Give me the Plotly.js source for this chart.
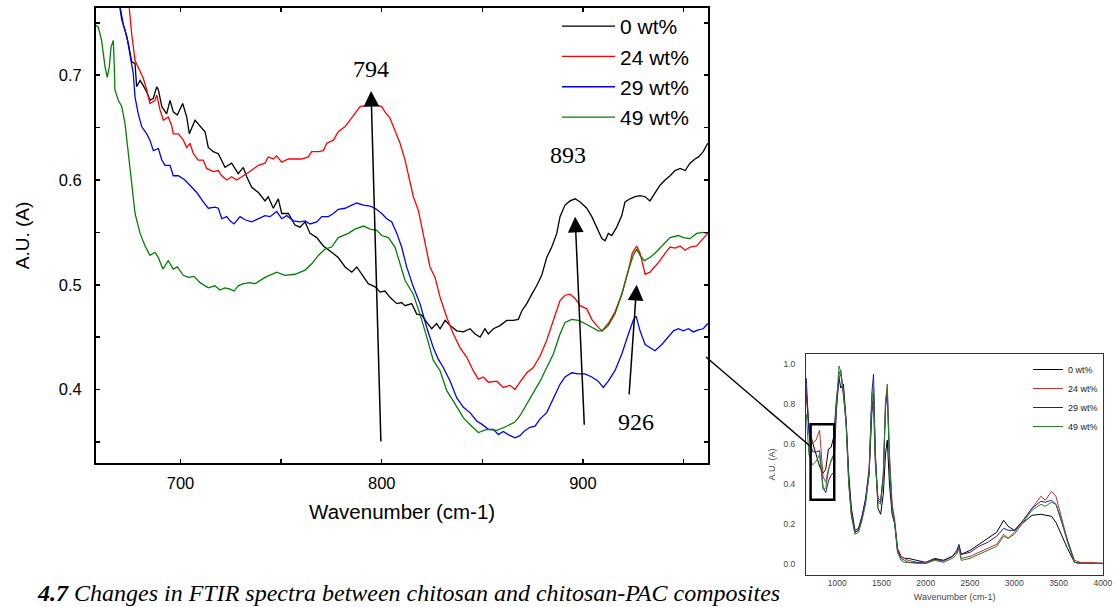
<!DOCTYPE html>
<html>
<head>
<meta charset="utf-8">
<script src="https://cdn.plot.ly/plotly-3.0.1.min.js"></script>
<style>html,body{margin:0;padding:0;background:#fff;}#chart{width:1117px;height:607px;}</style>
</head>
<body>
<div id="chart"></div>
<script>
// ---- main panel: 660-960 cm-1 region ----
const seriesNames = ['0 wt%', '24 wt%', '29 wt%', '49 wt%'];

const wn0 = [669.0,670.8,672.4,674.1,675.7,677.4,678.2,679.9,681.5,683.2,684.8,686.5,688.2,689.0,690.7,693.1,694.8,696.4,698.4,701.1,703.1,704.4,707.2,709.7,712.2,713.8,716.3,718.8,722.1,725.4,728.7,731.2,732.9,735.4,738.7,742.0,743.6,746.1,748.6,750.3,753.6,756.9,759.4,761.9,764.4,767.7,771.0,775.1,778.4,781.8,785.1,787.6,790.0,793.3,796.7,799.2,801.6,804.1,807.5,809.9,811.6,814.9,817.4,819.9,822.4,824.8,827.3,829.0,831.5,834.0,837.3,840.6,843.9,846.4,848.9,851.3,853.0,855.5,858.8,862.1,865.4,867.9,869.6,872.1,874.6,877.0,879.5,882.0,884.5,887.0,888.6,891.1,893.6,896.1,898.6,901.9,904.4,906.9,909.4,911.0,912.6,914.3,916.8,919.3,920.9,923.4,925.9,928.4,930.9,933.3,935.8,938.3,940.8,943.3,945.8,948.3,950.8,953.2,955.7,957.4,959.8,962.0];
const abs0 = [0.775,0.753,0.743,0.730,0.713,0.711,0.689,0.695,0.690,0.684,0.676,0.678,0.689,0.686,0.670,0.663,0.676,0.665,0.662,0.673,0.660,0.644,0.657,0.652,0.646,0.631,0.627,0.625,0.612,0.616,0.606,0.612,0.603,0.593,0.588,0.580,0.584,0.573,0.582,0.568,0.568,0.557,0.555,0.560,0.549,0.545,0.537,0.531,0.526,0.517,0.512,0.517,0.510,0.501,0.498,0.493,0.494,0.488,0.482,0.483,0.480,0.482,0.472,0.471,0.464,0.458,0.463,0.458,0.466,0.461,0.456,0.455,0.458,0.453,0.450,0.458,0.453,0.458,0.461,0.466,0.466,0.467,0.475,0.482,0.491,0.499,0.509,0.526,0.536,0.549,0.565,0.576,0.580,0.582,0.579,0.573,0.565,0.555,0.544,0.542,0.549,0.547,0.555,0.566,0.579,0.582,0.584,0.585,0.584,0.580,0.587,0.595,0.600,0.604,0.609,0.611,0.609,0.616,0.620,0.622,0.627,0.635];

const wn24 = [674.0,675.7,677.4,679.9,681.5,683.2,684.8,687.3,688.2,689.8,691.5,693.9,695.6,696.4,698.9,701.4,703.1,704.7,706.4,708.8,711.3,713.0,716.3,718.8,720.5,723.0,725.4,727.9,731.2,734.5,738.7,742.0,743.6,746.1,747.8,750.3,753.6,756.9,760.2,763.5,765.2,768.5,771.0,772.7,776.0,778.4,781.8,783.4,785.9,789.2,791.7,795.0,798.3,800.0,801.6,804.1,806.6,809.1,811.6,815.7,818.2,820.7,824.0,826.5,829.0,832.3,835.6,838.9,842.2,845.5,848.0,850.5,853.0,857.2,860.4,863.8,866.2,868.7,872.1,875.3,878.7,882.0,885.3,888.6,891.1,893.6,896.1,898.6,901.9,904.4,906.9,909.4,912.6,915.9,919.3,922.6,924.5,926.7,928.4,930.9,933.3,935.8,938.3,940.8,943.3,945.8,948.3,950.8,953.2,956.5,959.0,962.0];
const abs24 = [0.775,0.740,0.714,0.703,0.697,0.686,0.673,0.676,0.681,0.667,0.657,0.660,0.652,0.644,0.644,0.638,0.631,0.635,0.625,0.619,0.619,0.611,0.608,0.609,0.604,0.600,0.603,0.600,0.604,0.608,0.614,0.616,0.622,0.620,0.623,0.617,0.620,0.620,0.620,0.622,0.627,0.627,0.628,0.635,0.638,0.646,0.651,0.655,0.662,0.670,0.671,0.673,0.671,0.670,0.665,0.659,0.647,0.635,0.619,0.584,0.571,0.549,0.517,0.507,0.488,0.469,0.453,0.440,0.431,0.418,0.410,0.412,0.407,0.408,0.402,0.404,0.400,0.407,0.416,0.421,0.432,0.447,0.466,0.485,0.490,0.491,0.487,0.480,0.477,0.467,0.461,0.456,0.463,0.474,0.491,0.514,0.530,0.537,0.530,0.510,0.512,0.517,0.523,0.530,0.536,0.535,0.537,0.533,0.536,0.537,0.542,0.549];

const wn29 = [669.0,671.6,673.3,674.9,676.5,677.4,679.0,680.7,683.2,684.8,686.5,689.0,690.7,692.3,694.8,696.4,698.9,702.2,704.7,708.1,711.3,713.8,717.1,718.8,720.5,723.0,724.6,726.6,729.6,732.1,735.4,738.7,742.0,744.5,747.8,750.3,752.8,756.1,759.4,761.9,764.4,767.7,770.2,773.5,776.0,778.4,781.8,785.1,787.6,790.9,794.2,796.7,800.0,802.5,805.0,807.5,809.9,812.4,815.7,819.0,822.4,825.6,828.1,830.6,834.0,837.3,840.6,843.9,847.2,849.7,853.0,855.5,858.0,860.4,862.9,866.2,868.7,871.2,873.7,876.2,878.7,882.0,884.5,887.0,888.6,891.1,894.4,897.7,901.0,904.4,907.6,910.1,912.6,915.9,919.3,922.6,925.0,926.4,928.4,930.9,933.3,935.8,939.2,942.5,945.0,947.4,949.9,952.4,954.9,957.3,959.8,962.0];
const abs29 = [0.775,0.748,0.737,0.719,0.702,0.679,0.663,0.651,0.644,0.638,0.628,0.630,0.619,0.614,0.614,0.604,0.604,0.600,0.595,0.588,0.579,0.573,0.574,0.573,0.563,0.565,0.561,0.558,0.565,0.562,0.560,0.563,0.566,0.565,0.570,0.563,0.566,0.561,0.560,0.561,0.558,0.560,0.565,0.565,0.568,0.572,0.573,0.576,0.578,0.576,0.575,0.573,0.568,0.563,0.560,0.549,0.536,0.517,0.498,0.482,0.459,0.440,0.429,0.421,0.408,0.392,0.383,0.378,0.370,0.367,0.362,0.362,0.357,0.360,0.357,0.354,0.356,0.361,0.364,0.365,0.372,0.378,0.388,0.399,0.405,0.412,0.416,0.415,0.415,0.412,0.408,0.402,0.408,0.418,0.434,0.453,0.466,0.470,0.456,0.443,0.440,0.437,0.443,0.451,0.456,0.458,0.456,0.458,0.455,0.457,0.458,0.463];

const wn49 = [657.5,659.1,660.8,662.5,663.6,664.6,665.5,666.6,667.1,667.4,669.1,670.8,672.4,674.1,675.7,677.4,679.9,682.4,684.8,687.3,689.0,691.2,693.9,696.4,698.4,701.4,703.9,706.7,709.7,713.8,717.1,719.6,722.1,724.3,726.6,728.7,731.2,734.5,737.0,742.0,747.8,751.9,756.9,761.9,765.2,768.5,771.8,775.1,778.4,783.4,786.7,790.9,794.2,797.5,800.0,803.3,806.6,809.1,811.6,815.7,819.0,822.4,825.6,829.0,832.3,835.6,840.6,844.7,848.0,852.2,857.2,862.1,866.2,868.7,872.1,875.3,878.7,882.0,885.3,888.6,891.1,894.4,897.7,901.0,904.4,907.6,909.6,912.6,915.9,919.3,922.6,925.0,926.7,928.4,930.5,933.3,935.8,939.2,943.3,947.4,949.9,953.2,956.5,959.8,962.0];
const abs49 = [0.748,0.746,0.733,0.708,0.698,0.708,0.727,0.733,0.708,0.686,0.676,0.670,0.654,0.625,0.593,0.568,0.549,0.537,0.528,0.531,0.526,0.515,0.523,0.515,0.517,0.509,0.507,0.508,0.502,0.497,0.499,0.495,0.497,0.496,0.494,0.499,0.501,0.502,0.501,0.507,0.512,0.509,0.510,0.514,0.520,0.528,0.534,0.536,0.545,0.549,0.553,0.556,0.553,0.552,0.547,0.545,0.536,0.520,0.504,0.491,0.472,0.450,0.428,0.418,0.399,0.389,0.373,0.365,0.359,0.362,0.361,0.365,0.369,0.375,0.386,0.396,0.408,0.421,0.434,0.453,0.464,0.467,0.466,0.463,0.459,0.456,0.456,0.461,0.472,0.491,0.514,0.528,0.534,0.528,0.523,0.526,0.530,0.537,0.545,0.547,0.545,0.544,0.549,0.550,0.549];

// peak labels (cm-1)
const peakLabels = ['794', '893', '926'];

// ---- inset: full spectrum ----
const insetWn = [650,680,720,760,800,840,870,900,930,960,990,1020,1040,1070,1100,1130,1160,1200,1240,1280,1320,1360,1390,1410,1430,1460,1490,1520,1545,1565,1590,1620,1650,1680,1720,1760,1800,1900,2000,2100,2200,2300,2350,2375,2400,2500,2600,2700,2800,2880,2930,3000,3100,3200,3300,3350,3420,3470,3520,3600,3680,3750,3850,3950,4000];
const insetAbs0 = [0.85,0.68,0.61,0.555,0.49,0.455,0.475,0.575,0.584,0.635,0.82,0.93,0.88,0.90,0.72,0.45,0.28,0.17,0.18,0.24,0.32,0.45,0.75,0.85,0.55,0.28,0.25,0.35,0.55,0.62,0.40,0.25,0.20,0.08,0.04,0.03,0.03,0.02,0.01,0.03,0.02,0.04,0.06,0.09,0.05,0.07,0.10,0.13,0.16,0.22,0.19,0.17,0.21,0.245,0.25,0.245,0.24,0.21,0.16,0.08,0.01,0.005,0.005,0.005,0.005];
const insetAbs24 = [0.88,0.69,0.604,0.62,0.67,0.437,0.41,0.478,0.512,0.545,0.78,0.93,0.95,0.85,0.70,0.40,0.25,0.16,0.17,0.23,0.32,0.48,0.80,0.78,0.50,0.33,0.32,0.45,0.80,0.90,0.55,0.30,0.22,0.08,0.04,0.03,0.02,0.01,0.01,0.025,0.015,0.04,0.06,0.09,0.03,0.04,0.06,0.08,0.10,0.15,0.13,0.16,0.22,0.28,0.34,0.32,0.365,0.34,0.25,0.12,0.02,0.01,0.01,0.005,0.005];
const insetAbs29 = [0.93,0.65,0.563,0.56,0.568,0.385,0.358,0.415,0.445,0.46,0.76,0.95,0.97,0.84,0.72,0.42,0.25,0.16,0.17,0.24,0.33,0.47,0.85,0.95,0.55,0.32,0.31,0.44,0.78,0.86,0.50,0.28,0.20,0.07,0.03,0.02,0.01,0.01,0.005,0.025,0.02,0.04,0.07,0.10,0.05,0.06,0.09,0.11,0.14,0.18,0.17,0.17,0.22,0.28,0.315,0.31,0.32,0.30,0.23,0.11,0.01,0.005,0.005,0.005,0.005];
const insetAbs49 = [0.75,0.549,0.496,0.513,0.547,0.374,0.38,0.464,0.523,0.549,0.80,0.99,0.96,0.86,0.70,0.40,0.24,0.15,0.16,0.22,0.30,0.45,0.82,0.88,0.52,0.31,0.30,0.43,0.82,0.88,0.52,0.28,0.20,0.06,0.02,0.01,0.01,0.005,0.005,0.02,0.01,0.03,0.05,0.08,0.02,0.03,0.05,0.07,0.09,0.14,0.13,0.15,0.21,0.27,0.30,0.29,0.31,0.30,0.24,0.11,0.01,0.005,0.005,0.005,0.005];

const captionText = '<b><i>4.7</i></b><i> Changes in FTIR spectra between chitosan and chitosan-PAC composites</i>';

// ---------------- build ----------------
const W = 1117, H = 607;
const px = v => v / W;
const py = v => 1 - v / H;

const mainColors = ['#000000', '#ff0000', '#0000ff', '#008000'];
const insetColors = ['#000000', '#c0302c', '#1e1e9a', '#2a7d2a'];
const mainX = [wn0, wn24, wn29, wn49];
const mainY = [abs0, abs24, abs29, abs49];
const insetY = [insetAbs0, insetAbs24, insetAbs29, insetAbs49];

const traces = [];
for (let i = 0; i < 4; i++) {
  traces.push({
    x: mainX[i], y: mainY[i], type: 'scatter', mode: 'lines', name: seriesNames[i],
    line: {color: mainColors[i], width: 1.3}, xaxis: 'x', yaxis: 'y', legend: 'legend', hoverinfo: 'skip'
  });
}
for (let i = 0; i < 4; i++) {
  traces.push({
    x: insetWn, y: insetY[i], type: 'scatter', mode: 'lines', name: seriesNames[i],
    line: {color: insetColors[i], width: 1}, xaxis: 'x2', yaxis: 'y2', legend: 'legend2', hoverinfo: 'skip'
  });
}

const serif = 'Liberation Serif, Times New Roman, serif';
const sans = 'Liberation Sans, Arial, sans-serif';

const arrowCommon = {xref: 'x', yref: 'y', axref: 'x', ayref: 'y', text: '', showarrow: true,
  arrowhead: 2, arrowsize: 2.1, arrowwidth: 1.5, arrowcolor: '#000'};

const annotations = [
  Object.assign({x: 794.7, y: 0.685, ax: 799.6, ay: 0.349}, arrowCommon),
  Object.assign({x: 896.1, y: 0.565, ax: 900.7, ay: 0.365}, arrowCommon),
  Object.assign({x: 926.7, y: 0.500, ax: 922.9, ay: 0.394}, arrowCommon),
  {x: 794.7, y: 0.706, xref: 'x', yref: 'y', text: peakLabels[0], showarrow: false, font: {family: serif, size: 24, color: '#000'}},
  {x: 892.7, y: 0.6235, xref: 'x', yref: 'y', text: peakLabels[1], showarrow: false, font: {family: serif, size: 24, color: '#000'}},
  {x: 926.6, y: 0.3695, xref: 'x', yref: 'y', text: peakLabels[2], showarrow: false, font: {family: serif, size: 24, color: '#000'}},
  {x: px(36), y: 0, xref: 'paper', yref: 'paper', xanchor: 'left', yanchor: 'bottom', text: captionText,
   showarrow: false, borderpad: 0, font: {family: serif, size: 24, color: '#000'}}
];

const shapes = [
  {type: 'rect', xref: 'x2', yref: 'y2', x0: 699, x1: 966, y0: 0.323, y1: 0.70, line: {color: '#000', width: 2.5}},
  {type: 'line', xref: 'paper', yref: 'paper', x0: px(706), y0: py(357), x1: px(810), y1: py(446), line: {color: '#000', width: 1.5}}
];

const layout = {
  width: W, height: H,
  margin: {l: 0, r: 0, t: 0, b: 0},
  paper_bgcolor: '#fff', plot_bgcolor: 'rgba(0,0,0,0)',
  font: {family: sans, color: '#000'},
  showlegend: true,
  xaxis: {
    domain: [px(96), px(708.3)], range: [658, 962.3], anchor: 'y',
    showline: true, linecolor: '#000', linewidth: 2, mirror: 'allticks',
    ticks: 'inside', ticklen: 4, tickwidth: 1.5, tickcolor: '#000',
    tick0: 700, dtick: 100,
    minor: {dtick: 50, ticks: 'inside', ticklen: 4, tickwidth: 1.5, tickcolor: '#000'},
    showgrid: false, zeroline: false,
    tickfont: {family: sans, size: 16.5, color: '#000'}, ticklabelstandoff: 4,
    title: {text: 'Wavenumber (cm-1)', font: {family: sans, size: 20.5, color: '#000'}, standoff: 14}
  },
  yaxis: {
    domain: [py(462.7), py(8.3)], range: [0.3302, 0.7638], anchor: 'x',
    showline: true, linecolor: '#000', linewidth: 2, mirror: 'allticks',
    ticks: 'inside', ticklen: 4, tickwidth: 1.5, tickcolor: '#000',
    tick0: 0.4, dtick: 0.1, tickformat: '.1f',
    minor: {dtick: 0.05, ticks: 'inside', ticklen: 4, tickwidth: 1.5, tickcolor: '#000'},
    showgrid: false, zeroline: false,
    tickfont: {family: sans, size: 16.5, color: '#000'}, ticklabelstandoff: 9,
    title: {text: 'A.U. (A)', font: {family: sans, size: 19, color: '#000'}, standoff: 24}
  },
  xaxis2: {
    domain: [px(806), px(1103.3)], range: [647, 4005], anchor: 'y2',
    showline: true, linecolor: '#333', linewidth: 1, mirror: true, ticks: '',
    tickvals: [1000, 1500, 2000, 2500, 3000, 3500, 4000],
    showgrid: false, zeroline: false,
    tickfont: {family: sans, size: 8.5, color: '#444'},
    title: {text: 'Wavenumber (cm-1)', font: {family: sans, size: 9, color: '#444'}, standoff: 6}
  },
  yaxis2: {
    domain: [py(575), py(354)], range: [-0.053, 1.05], anchor: 'x2',
    showline: true, linecolor: '#333', linewidth: 1, mirror: true, ticks: '',
    tick0: 0, dtick: 0.2, tickformat: '.1f',
    showgrid: false, zeroline: false,
    tickfont: {family: sans, size: 8.5, color: '#444'}, ticklabelstandoff: 8,
    title: {text: 'A.U. (A)', font: {family: sans, size: 9, color: '#444'}, standoff: 6}
  },
  legend: {
    x: px(557), y: py(6), xanchor: 'left', yanchor: 'top',
    bgcolor: 'rgba(0,0,0,0)', borderwidth: 0, itemwidth: 53,
    font: {family: sans, size: 21, color: '#000'}, tracegroupgap: 0
  },
  legend2: {
    x: px(1028), y: py(355), xanchor: 'left', yanchor: 'top',
    bgcolor: 'rgba(0,0,0,0)', borderwidth: 0, itemwidth: 30,
    font: {family: sans, size: 9, color: '#222'}, tracegroupgap: 0
  },
  annotations: annotations,
  shapes: shapes
};

Plotly.newPlot('chart', traces, layout, {staticPlot: true, displayModeBar: false});
</script>
</body>
</html>
